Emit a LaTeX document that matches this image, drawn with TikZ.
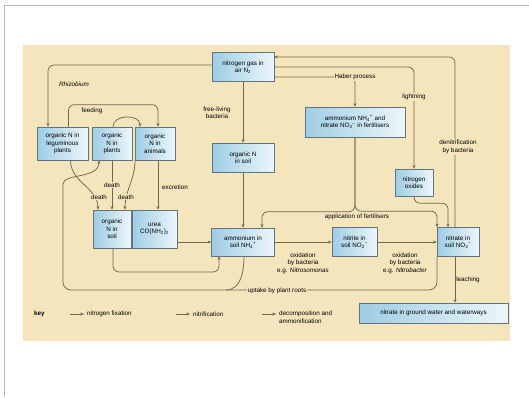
\documentclass[tikz,border=0pt]{standalone}
\usepackage{fontspec}
\setmainfont{Liberation Sans}
\usetikzlibrary{arrows.meta}
\definecolor{panel}{RGB}{245,229,188}
\definecolor{boxblue}{RGB}{158,205,228}
\definecolor{boxpale}{RGB}{236,246,250}
\definecolor{boxedge}{RGB}{100,115,130}
\definecolor{flow}{RGB}{115,100,82}
\newcommand{\tinyfont}{\fontsize{6.3}{7.4}\selectfont}
\newcommand{\chsub}[1]{\textsubscript{#1}}
\newcommand{\chsup}[1]{\textsuperscript{#1}}

\begin{document}
\begin{tikzpicture}[x=1pt, y=-1pt,
  box/.style={draw=boxedge, line width=0.7pt, left color=boxblue, right color=boxpale, align=center, inner sep=1pt, font=\tinyfont},
  lnk/.style={-{Stealth[length=3.5pt,width=3pt]}, line width=0.75pt, draw=flow},
  pipe/.style={line width=0.75pt, draw=flow},
  lbl/.style={font=\tinyfont, align=center, inner sep=1pt},
  cover/.style={lbl, fill=panel}
]
  \useasboundingbox (0,0) rectangle (529,397);
  \fill[white] (0,0) rectangle (529,397);
  \draw[gray!55, line width=0.8pt] (529,5) -- (4,5) -- (4,397);
  \fill[panel] (23,45) rectangle (510,341);

  % boxes
  \node[box, minimum width=62pt, minimum height=29pt] (gas) at (243,67) {nitrogen gas in\\air N\chsub{2}};
  \node[box, minimum width=51pt, minimum height=33pt] (leg) at (62.5,143.5) {organic N in\\leguminous\\plants};
  \node[box, minimum width=40pt, minimum height=33pt] (plant) at (112,143.5) {organic\\N in\\plants};
  \node[box, minimum width=40pt, minimum height=33pt] (anim) at (155,143.5) {organic\\N in\\animals};
  \node[box, minimum width=62pt, minimum height=29pt] (orgtop) at (243,157.5) {organic N\\in soil};
  \node[box, minimum width=100pt, minimum height=30pt] (fert) at (355,122) {ammonium NH\chsub{4}\chsup{+} and\\nitrate NO\chsub{3}\chsup{\textminus} in fertilisers};
  \node[box, minimum width=38pt, minimum height=38pt] (orgsoil) at (112,229) {organic\\N in\\soil};
  \node[box, minimum width=45pt, minimum height=38pt] (urea) at (154.5,229) {urea\\CO(NH\chsub{2})\chsub{2}};
  \node[box, minimum width=63pt, minimum height=28pt] (ammon) at (243,242) {ammonium in\\soil NH\chsub{4}\chsup{+}};
  \node[box, minimum width=38pt, minimum height=27pt] (nitrox) at (414,182.5) {nitrogen\\oxides};
  \node[box, minimum width=45pt, minimum height=29pt] (nitrite) at (354.5,242) {nitrite in\\soil NO\chsub{2}\chsup{\textminus}};
  \node[box, minimum width=42pt, minimum height=29pt] (nitrate) at (458,242) {nitrate in\\soil NO\chsub{3}\chsup{\textminus}};
  \node[box, minimum width=149pt, minimum height=20pt] (water) at (433.5,313) {nitrate in ground water and waterways};

  % fixation
  \draw[lnk, rounded corners=6pt] ([yshift=2pt]gas.west) -| ([xshift=-14.5pt]leg.north);
  \draw[lnk] (gas.south) -- (orgtop.north);
  \draw[lnk] (orgtop.south) -- (ammon.north);
  \draw[lnk, rounded corners=6pt] ([yshift=-10pt]gas.east) -| (fert.north);
  \draw[lnk, rounded corners=6pt] (gas.east) -| (nitrox.north);
  \draw[lnk, rounded corners=6pt] ([xshift=-3pt]nitrate.north) |- ([yshift=10pt]gas.east);
  \draw[lnk, rounded corners=6pt] (fert.south) |- ([xshift=19pt,yshift=16pt]ammon.north) -- ([xshift=19pt]ammon.north);
  \draw[lnk, rounded corners=6pt] (fert.south) |- ([xshift=-21pt,yshift=16pt]nitrate.north) -- ([xshift=-21pt]nitrate.north);
  \draw[lnk, rounded corners=6pt] (nitrox.south) |- ([xshift=-10pt,yshift=24pt]nitrate.north) -- ([xshift=-10pt]nitrate.north);

  % feeding, death, excretion
  \draw[lnk, rounded corners=6pt] ([xshift=6pt]leg.north) -- ++(0,-22) -| ([xshift=3pt]anim.north);
  \draw[lnk] ([xshift=1pt]plant.north) to[out=90, in=90, looseness=1.2] ([xshift=-15pt]anim.north);
  \draw[lnk] ([xshift=8pt]leg.south) to[out=-90, in=90] ([xshift=-14pt]orgsoil.north);
  \draw[lnk] (plant.south) -- (orgsoil.north);
  \draw[lnk] ([xshift=-20pt]anim.south) to[out=-90, in=90] ([xshift=13pt]orgsoil.north);
  \draw[lnk] ([xshift=3pt]anim.south) -- ([xshift=3pt]anim.south |- urea.north);

  % decomposition
  \draw[lnk, rounded corners=6pt] ([xshift=1pt]orgsoil.south) |- (219,272) -- ([xshift=-24pt]ammon.south);
  \draw[lnk] (urea.east |- ammon.west) -- (ammon.west);

  % nitrification
  \draw[lnk] (ammon.east) -- (nitrite.west);
  \draw[lnk] (nitrite.east) -- (nitrate.west);
  \draw[lnk] ([xshift=-3pt]nitrate.south) -- ([xshift=-3pt]nitrate.south |- water.north);

  % uptake
  \draw[lnk, rounded corners=8pt] ([xshift=-21pt]nitrate.south) |- (63,290) -- (63,192) to[out=90, in=-90] ([xshift=-13pt]plant.south);
  \draw[pipe] ([xshift=1pt]ammon.south) to[out=-90, in=0] (226,290);

  % labels
  \node[lbl] (rhiz) at (74,84) {\itshape Rhizobium};
  \node[lbl] (feedlbl) at (92,111) {feeding};
  \node[lbl] (freelbl) at (217,113) {free-living\\bacteria};
  \node[cover] (haberlbl) at (355,77) {Haber process};
  \node[cover] (lightlbl) at (414,97) {lightning};
  \node[cover] (denitlbl) at (458,147) {denitrification\\by bacteria};
  \node[cover] (death1) at (112,185) {death};
  \node[cover] (death2) at (99,197) {death};
  \node[cover] (death3) at (126,197) {death};
  \node[lbl] (excrlbl) at (175,187) {excretion};
  \node[cover] (applbl) at (357,217) {application of fertilisers};
  \node[lbl] (ox1) at (303,263) {oxidation\\by bacteria\\e.g. {\itshape Nitrosomonas}};
  \node[lbl] (ox2) at (405,263) {oxidation\\by bacteria\\e.g. {\itshape Nitrobacter}};
  \node[lbl] (leachlbl) at (468,280) {leaching};
  \node[cover] (uptlbl) at (277,291) {uptake by plant roots};

  % key
  \node[lbl, anchor=west, font=\tinyfont\bfseries] (keylbl) at (33,314) {key};
  \coordinate (k1) at (70,314);
  \draw[lnk] (k1) -- ++(14,0);
  \node[lbl, anchor=west] (k1lbl) at (86,314) {nitrogen fixation};
  \coordinate (k2) at (176,314);
  \draw[lnk] (k2) -- ++(14,0);
  \node[lbl, anchor=west] (k2lbl) at (192,314) {nitrification};
  \coordinate (k3) at (262,314);
  \draw[lnk] (k3) -- ++(14,0);
  \node[lbl, anchor=north west, align=left] (k3lbl) at (278,310) {decomposition and\\ammonification};
\end{tikzpicture}
\end{document}
